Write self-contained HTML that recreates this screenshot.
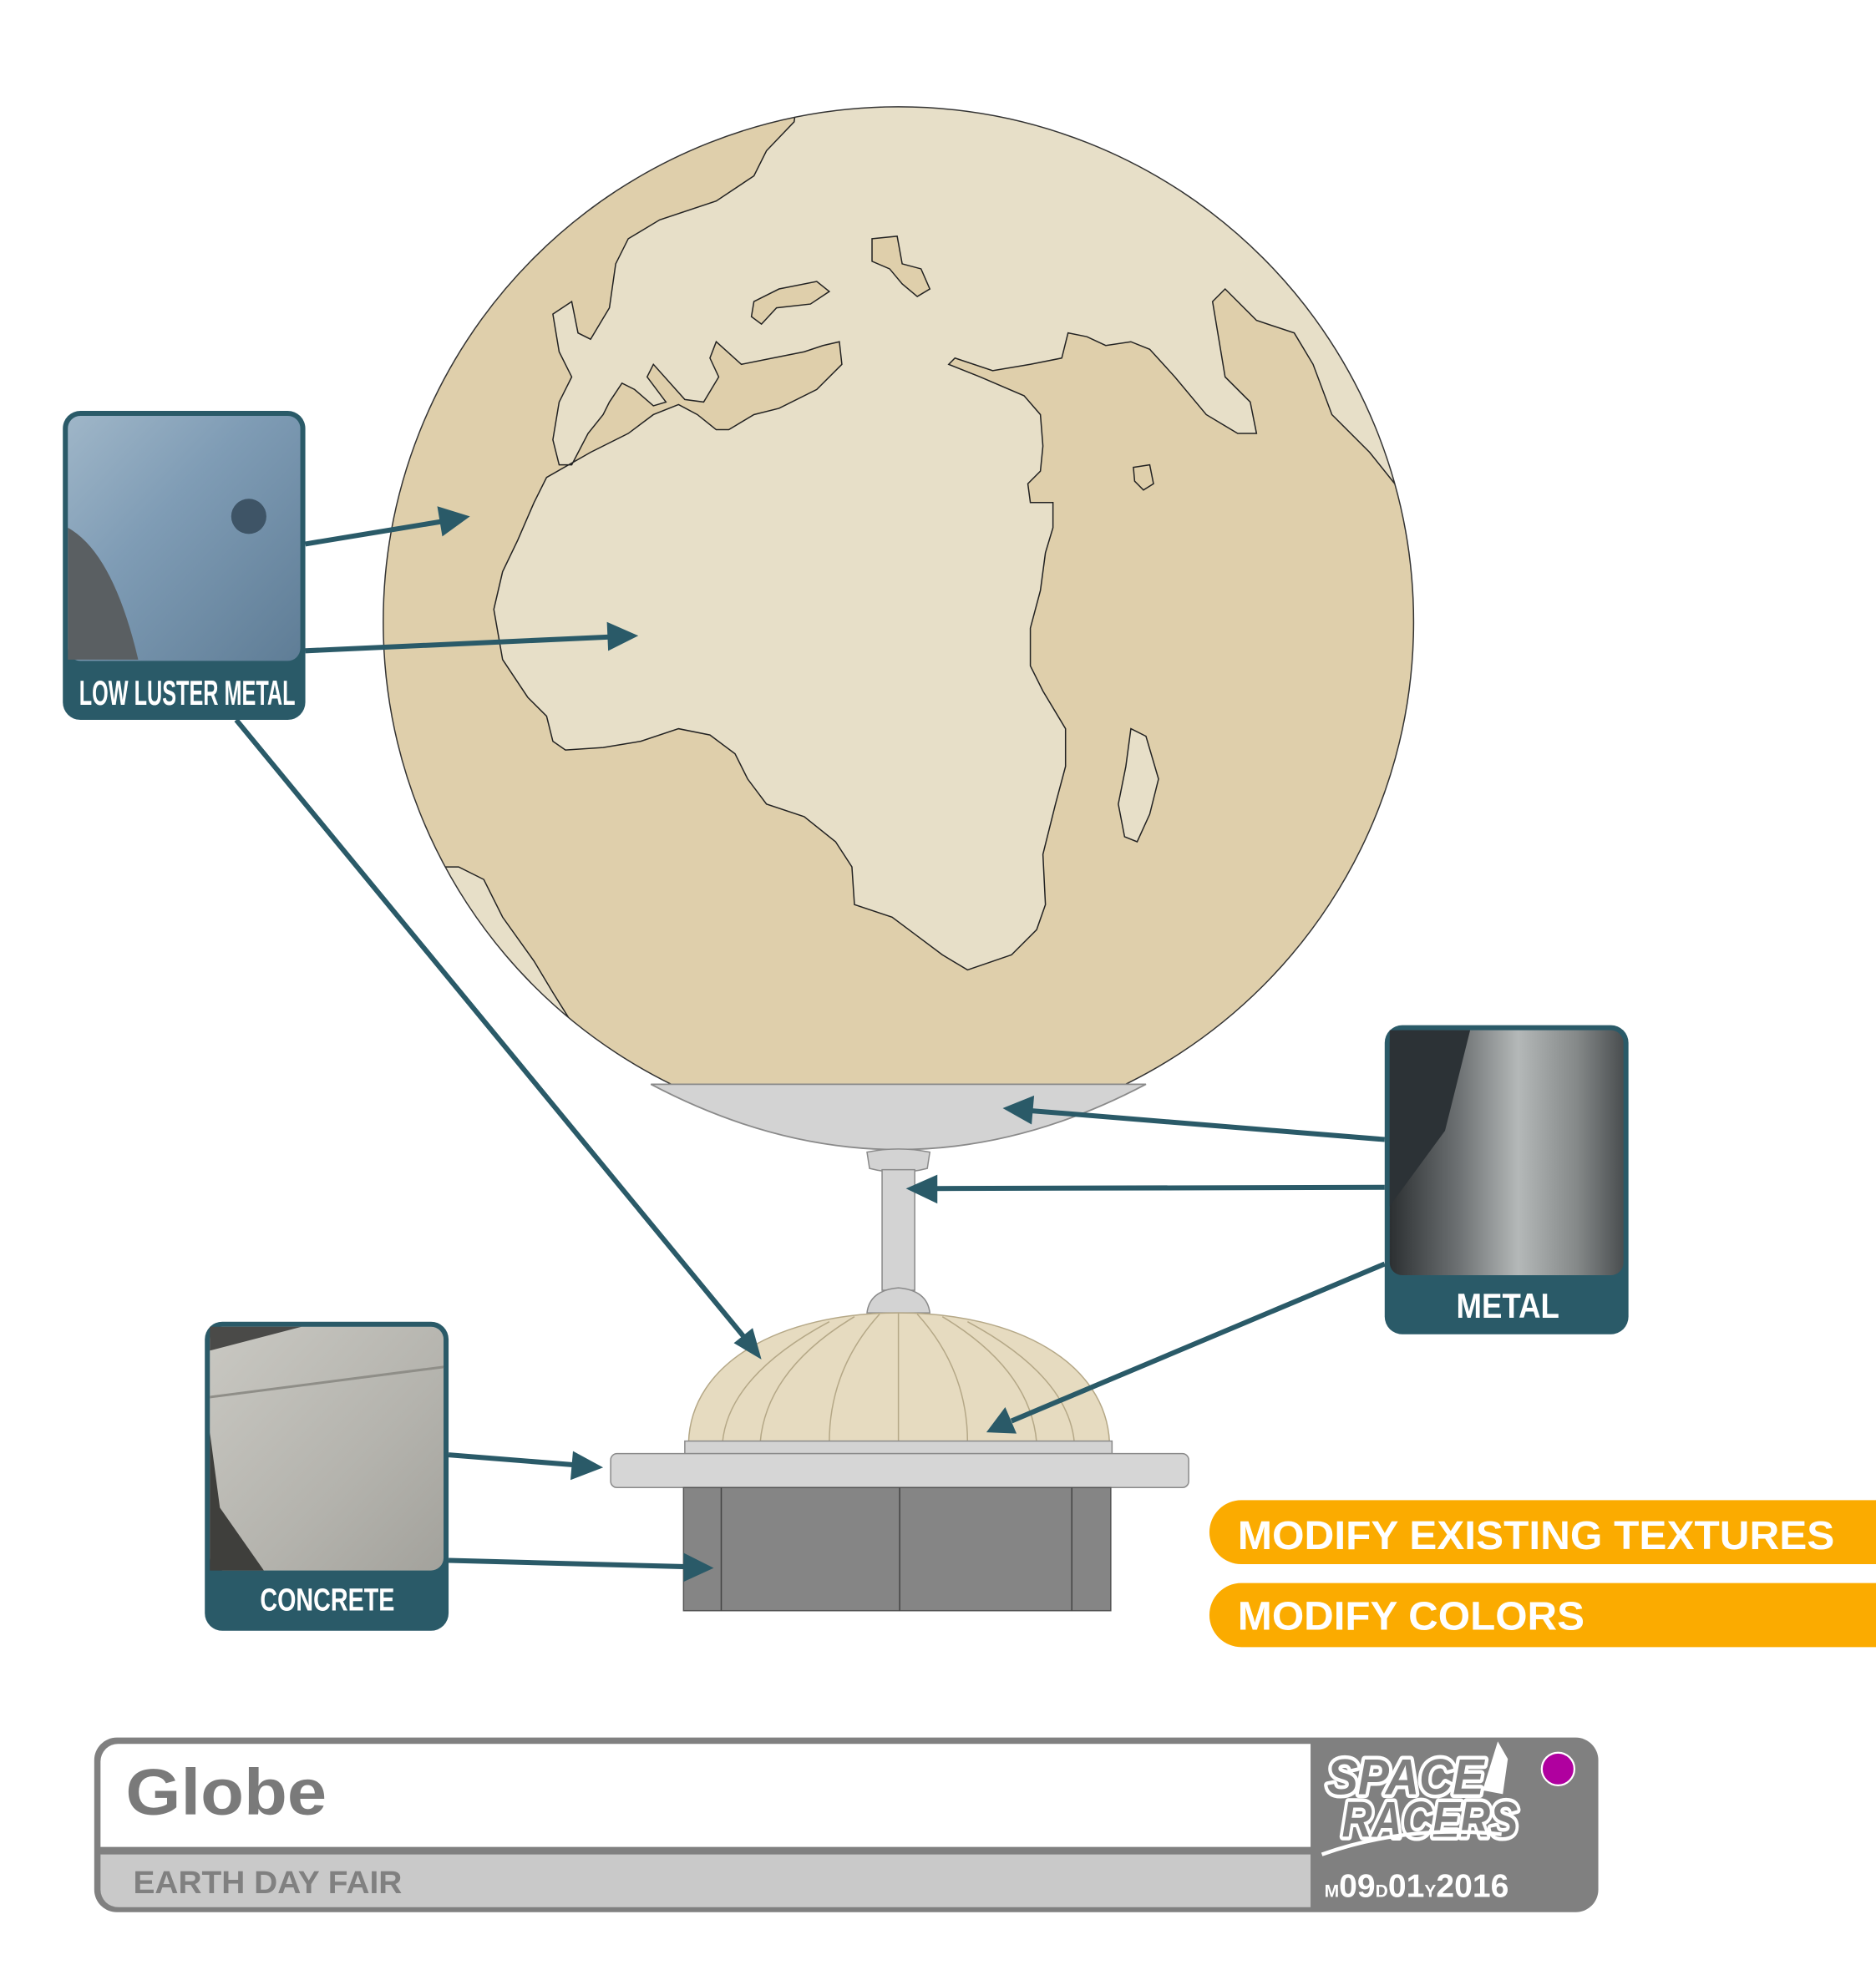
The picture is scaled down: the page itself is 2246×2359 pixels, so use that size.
<!DOCTYPE html>
<html><head><meta charset="utf-8"><style>html,body{margin:0;padding:0;background:#fff}svg{display:block}</style></head>
<body>
<svg width="2246" height="2359" viewBox="0 0 1493 1568" preserveAspectRatio="none" xmlns="http://www.w3.org/2000/svg" font-family="Liberation Sans, sans-serif">
<defs>
<clipPath id="g"><circle cx="715" cy="495" r="410"/></clipPath>
<linearGradient id="ll" x1="0" y1="0" x2="1" y2="1"><stop offset="0" stop-color="#9fb6c8"/><stop offset="0.4" stop-color="#7f9cb5"/><stop offset="1" stop-color="#5f7d96"/></linearGradient>
<linearGradient id="mt" x1="0" y1="0" x2="1" y2="0"><stop offset="0" stop-color="#2c3032"/><stop offset="0.3" stop-color="#6e7274"/><stop offset="0.55" stop-color="#b4b8b8"/><stop offset="0.8" stop-color="#858989"/><stop offset="1" stop-color="#4a4e50"/></linearGradient>
<linearGradient id="cc" x1="0" y1="0" x2="1" y2="1"><stop offset="0" stop-color="#c9c8c2"/><stop offset="0.6" stop-color="#b4b3ad"/><stop offset="1" stop-color="#a3a29c"/></linearGradient>
</defs>

<circle cx="715" cy="495" r="410" fill="#dfcfab"/>
<g clip-path="url(#g)" fill="#e7dfc8" stroke="#222" stroke-width="1">
<path d="M632,97 L640,40 L1250,40 L1250,390 L1110,385 L1090,360 L1060,330 L1045,290 L1030,265 L1000,255 L975,230 L965,240 L970,270 L975,300 L995,320 L1000,345 L985,345 L960,330 L935,300 L915,278 L900,272 L880,275 L865,268 L850,265 L845,285 L820,290 L790,295 L760,285 L755,290 L780,300 L815,315 L828,330 L830,355 L828,375 L818,385 L820,400 L838,400 L838,420 L832,440 L828,470 L820,500 L820,530 L830,550 L848,580 L848,610 L840,640 L830,680 L832,720 L825,740 L805,760 L770,772 L750,760 L730,745 L710,730 L680,720 L678,690 L665,670 L640,650 L610,640 L595,620 L585,600 L565,585 L540,580 L510,590 L480,595 L450,597 L440,590 L435,570 L420,555 L400,525 L393,485 L400,455 L412,430 L425,400 L435,380 L470,360 L500,345 L520,330 L540,322 L555,330 L570,342 L580,342 L600,330 L620,325 L650,310 L670,290 L668,272 L655,275 L640,280 L615,285 L590,290 L570,272 L565,285 L572,300 L560,320 L545,318 L520,290 L515,300 L530,320 L520,323 L505,310 L495,305 L485,320 L480,330 L468,345 L455,370 L445,370 L440,350 L445,320 L455,300 L445,280 L440,250 L455,240 L460,265 L470,270 L485,245 L490,210 L500,190 L525,175 L570,160 L600,140 L610,120 Z"/>
<path d="M348,690 L365,690 L385,700 L400,730 L425,765 L440,790 L465,830 L300,900 L300,690 Z"/>
<path fill="#dfcfab" d="M600,240 L620,230 L650,224 L660,232 L645,242 L618,245 L606,258 L598,252 Z"/>
<path fill="#dfcfab" d="M694,190 L714,188 L718,210 L733,214 L740,230 L730,236 L718,226 L708,214 L694,208 Z"/>
<path fill="#dfcfab" d="M902,372 L915,370 L918,385 L910,390 L903,383 Z"/>
<path d="M900,580 L912,586 L922,620 L915,648 L905,670 L895,666 L890,640 L896,610 Z"/>
</g>
<circle cx="715" cy="495" r="410" fill="none" stroke="#333" stroke-width="1"/>

<path d="M518,863 L912,863 Q715,967 518,863 Z" fill="#d3d3d3" stroke="#8a8a8a" stroke-width="1.2"/>
<path d="M690,917 Q715,912 740,917 L738,930 Q715,936 692,930 Z" fill="#d3d3d3" stroke="#8a8a8a"/>
<rect x="702" y="931" width="26" height="96" fill="#d3d3d3" stroke="#8a8a8a"/>
<path d="M690,1045 Q692,1027 715,1025 Q738,1027 740,1045 Z" fill="#d3d3d3" stroke="#8a8a8a"/>
<path d="M548,1148 C550,1085 620,1045 715,1045 C810,1045 880,1085 883,1148 Z" fill="#e6dbc0" stroke="#b5a887"/>
<g fill="none" stroke="#b5a887" stroke-width="1">
<path d="M715,1045 L715,1148"/>
<path d="M700,1046 Q660,1090 660,1148"/><path d="M730,1046 Q770,1090 770,1148"/>
<path d="M680,1048 Q610,1090 605,1148"/><path d="M750,1048 Q820,1090 825,1148"/>
<path d="M660,1052 Q580,1095 575,1148"/><path d="M770,1052 Q850,1095 855,1148"/>
</g>
<rect x="545" y="1147" width="340" height="10" fill="#d3d3d3" stroke="#8a8a8a"/>
<rect x="486" y="1157" width="460" height="27" rx="5" fill="#d6d6d6" stroke="#8a8a8a"/>
<rect x="544" y="1184" width="340" height="98" fill="#858585" stroke="#555"/>
<g stroke="#444" stroke-width="1"><line x1="574" y1="1184" x2="574" y2="1282"/><line x1="716" y1="1184" x2="716" y2="1282"/><line x1="853" y1="1184" x2="853" y2="1282"/></g>

<g stroke="#2a5a68" stroke-width="4" fill="#2a5a68">
<line x1="243" y1="433" x2="352" y2="415"/><polygon stroke="none" points="374,411 348,403 352,427"/>
<line x1="243" y1="518" x2="485" y2="507"/><polygon stroke="none" points="508,506 483,495 484,518"/>
<line x1="188" y1="573" x2="592" y2="1064"/><polygon stroke="none" points="606,1082 584,1069 599,1057"/>
<line x1="1102" y1="907" x2="820" y2="884"/><polygon stroke="none" points="798,882 823,872 821,895"/>
<line x1="1102" y1="945" x2="744" y2="946"/><polygon stroke="none" points="721,946 746,935 746,958"/>
<line x1="1102" y1="1006" x2="805" y2="1131"/><polygon stroke="none" points="785,1140 800,1120 809,1141"/>
<line x1="357" y1="1158" x2="458" y2="1166"/><polygon stroke="none" points="480,1168 456,1155 454,1178"/>
<line x1="357" y1="1242" x2="546" y2="1247"/><polygon stroke="none" points="568,1248 544,1236 544,1259"/>
</g>

<rect x="50" y="327" width="193" height="246" rx="14" fill="#2a5a68"/>
<rect x="54" y="331" width="185" height="195" rx="10" fill="url(#ll)"/>
<path d="M54,420 Q90,440 110,525 L54,525 Z" fill="#5a5f62"/>
<circle cx="198" cy="411" r="14" fill="#3e5466"/>
<text x="63" y="561" textLength="172" lengthAdjust="spacingAndGlyphs" font-weight="bold" font-size="28" fill="#fff">LOW LUSTER METAL</text>

<rect x="1102" y="816" width="194" height="246" rx="14" fill="#2a5a68"/>
<rect x="1106" y="820" width="186" height="195" rx="10" fill="url(#mt)"/>
<path d="M1106,820 L1170,820 L1150,900 L1106,960 Z" fill="#2c3236"/>
<text x="1159" y="1049" textLength="82" lengthAdjust="spacingAndGlyphs" font-weight="bold" font-size="28" fill="#fff">METAL</text>

<rect x="163" y="1052" width="194" height="246" rx="14" fill="#2a5a68"/>
<rect x="167" y="1056" width="186" height="194" rx="10" fill="url(#cc)"/>
<path d="M167,1056 L240,1056 L167,1075 Z" fill="#4a4a48"/>
<path d="M167,1140 L175,1200 L210,1250 L167,1250 Z" fill="#3f3f3c"/>
<line x1="167" y1="1112" x2="353" y2="1088" stroke="#8f8e88" stroke-width="2"/>
<text x="207" y="1282" textLength="107" lengthAdjust="spacingAndGlyphs" font-weight="bold" font-size="25" fill="#fff">CONCRETE</text>

<path d="M988,1194 L1493,1194 L1493,1245 L988,1245 A25.5,25.5 0 0 1 988,1194 Z" fill="#fbab00"/>
<text x="985" y="1233" textLength="475" lengthAdjust="spacingAndGlyphs" font-weight="bold" font-size="32" fill="#fff">MODIFY EXISTING TEXTURES</text>
<path d="M988,1260 L1493,1260 L1493,1311 L988,1311 A25.5,25.5 0 0 1 988,1260 Z" fill="#fbab00"/>
<text x="985" y="1297" textLength="276" lengthAdjust="spacingAndGlyphs" font-weight="bold" font-size="32" fill="#fff">MODIFY COLORS</text>

<rect x="75" y="1383" width="1197" height="139" rx="18" fill="#808080"/>
<path d="M94,1388 L1043,1388 L1043,1470 L80,1470 L80,1402 A14,14 0 0 1 94,1388 Z" fill="#fff"/>
<path d="M80,1476 L1043,1476 L1043,1518 L94,1518 A14,14 0 0 1 80,1504 Z" fill="#c9c9c9"/>
<text x="100" y="1444" textLength="160" lengthAdjust="spacingAndGlyphs" font-weight="bold" font-size="52" fill="#7a7a7a">Globe</text>
<text x="106" y="1507" textLength="214" lengthAdjust="spacingAndGlyphs" font-weight="bold" font-size="25" fill="#808080">EARTH DAY FAIR</text>
<g font-style="italic" font-weight="bold" font-size="40" fill="#808080" stroke="#fff" stroke-width="6" paint-order="stroke" stroke-linejoin="round">
<text x="1056" y="1428" textLength="125" lengthAdjust="spacingAndGlyphs">SPACE</text>
<text x="1068" y="1462" textLength="140" lengthAdjust="spacingAndGlyphs">RACERS</text>
</g>
<path d="M1052,1476 Q1120,1452 1195,1460" fill="none" stroke="#fff" stroke-width="3"/>
<path d="M1180,1425 L1192,1386 L1200,1400 L1196,1428 Z" fill="#fff"/>
<circle cx="1240" cy="1408" r="13" fill="#b0009f" stroke="#fff" stroke-width="1.5"/>
<text x="1054" y="1510" font-weight="bold" fill="#fff"><tspan font-size="14">M</tspan><tspan font-size="26">09</tspan><tspan font-size="14">D</tspan><tspan font-size="26">01</tspan><tspan font-size="14">Y</tspan><tspan font-size="26">2016</tspan></text>
</svg>
</body></html>
